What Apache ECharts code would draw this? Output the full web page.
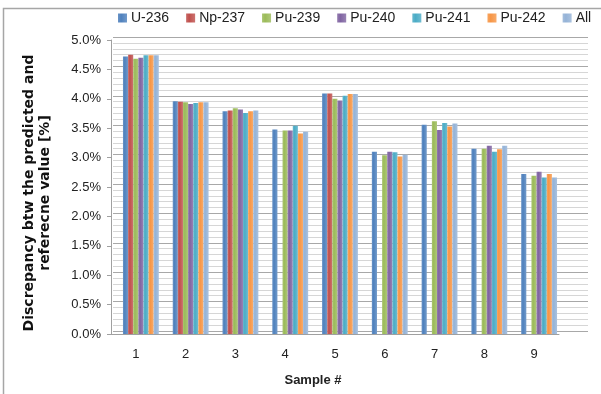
<!DOCTYPE html>
<html><head><meta charset="utf-8">
<script src="https://cdn.jsdelivr.net/npm/echarts@6/dist/echarts.min.js"></script>
<style>html,body{margin:0;padding:0;background:#fff}#c{width:601px;height:394px}</style>
</head><body><div id="c"></div>
<script>
const categories = ['1','2','3','4','5','6','7','8','9'];
const seriesNames = ['U-236','Np-237','Pu-239','Pu-240','Pu-241','Pu-242','All'];
const u236  = [4.72, 3.96, 3.79, 3.48, 4.09, 3.10, 3.56, 3.15, 2.72];
const np237 = [4.75, 3.95, 3.80, null, 4.09, null, null, null, null];
const pu239 = [4.68, 3.94, 3.84, 3.46, 4.00, 3.04, 3.62, 3.15, 2.69];
const pu240 = [4.70, 3.91, 3.82, 3.46, 3.97, 3.10, 3.47, 3.20, 2.76];
const pu241 = [4.74, 3.93, 3.76, 3.54, 4.05, 3.09, 3.59, 3.10, 2.66];
const pu242 = [4.74, 3.94, 3.79, 3.41, 4.08, 3.02, 3.53, 3.14, 2.72];
const all   = [4.74, 3.94, 3.80, 3.44, 4.08, 3.05, 3.58, 3.20, 2.66];
const yTicks = [0, 0.5, 1.0, 1.5, 2.0, 2.5, 3.0, 3.5, 4.0, 4.5, 5.0];
const colors = ['#4F81BD','#C0504D','#9BBB59','#8064A2','#4BACC6','#F79646','#95B3D7'];
const values = [u236, np237, pu239, pu240, pu241, pu242, all];

const chart = echarts.init(document.getElementById('c'), null, {renderer:'canvas'});
const font = 'Liberation Sans';
function grad(c){
  return new echarts.graphic.LinearGradient(0,0,1,0,[
    {offset:0,color:echarts.color.lift(c,0.15)},
    {offset:0.35,color:c},
    {offset:1,color:echarts.color.lift(c,0.2)}]);
}
const yMin = yTicks[0], yMax = yTicks[yTicks.length-1], yStep = yTicks[1]-yTicks[0];
chart.setOption({
  animation:false,
  textStyle:{fontFamily:font},
  graphic:[{type:'rect',shape:{x:3.5,y:8.5,width:620,height:400},style:{fill:'none',stroke:'#a6a6a6',lineWidth:1.5},silent:true}],
  legend:{top:6,left:113,width:500,itemWidth:9,itemHeight:9,itemGap:17,icon:'rect',
    textStyle:{fontSize:14,color:'#222',fontFamily:font,padding:[0,0,0,-1]},data:seriesNames},
  grid:[
    {left:111,right:42,top:40,bottom:60},
    {left:113,right:13,top:37,bottom:63},
    {left:116,right:37,top:40,bottom:60}
  ],
  xAxis:[
    {type:'category',data:categories,gridIndex:0,
     axisLine:{lineStyle:{color:'#a0a0a0'}},axisTick:{show:false},
     axisLabel:{fontSize:13,color:'#222',margin:14},
     name:'Sample #',nameLocation:'middle',nameGap:40,
     nameTextStyle:{fontSize:13,fontWeight:'bold',color:'#222',padding:[0,44,0,0]}},
    {type:'category',data:categories,gridIndex:1,show:false},
    {type:'category',data:categories,gridIndex:2,show:false}
  ],
  yAxis:[
    {type:'value',gridIndex:0,min:yMin,max:yMax,interval:yStep,
     axisLine:{show:true,lineStyle:{color:'#a0a0a0'}},axisTick:{show:true,length:4,lineStyle:{color:'#a0a0a0'}},
     axisLabel:{fontSize:13,color:'#222',margin:10,formatter:v=>v.toFixed(1)+'%'},
     splitLine:{show:false},
     name:'Discrepancy btw the predicted and\nreferecne value [%]',nameLocation:'middle',nameGap:58,nameRotate:90,
     nameTextStyle:{fontSize:14,fontWeight:'bold',color:'#111',lineHeight:16,fontFamily:'DejaVu Sans',padding:[0,12,0,0]}},
    {type:'value',gridIndex:1,min:yMin,max:yMax,interval:yStep,
     axisLine:{show:false},axisTick:{show:false},axisLabel:{show:false},
     splitLine:{show:true,lineStyle:{color:'#a8a8a8'}},
     minorTick:{show:false,splitNumber:5},
     minorSplitLine:{show:true,lineStyle:{color:'#d6d6d6'}}},
    {type:'value',gridIndex:2,min:yMin,max:yMax,show:false,splitLine:{show:false}}
  ],
  series: seriesNames.map((n,i)=>({
    name:n,type:'bar',xAxisIndex:2,yAxisIndex:2,data:values[i],
    barGap:'0%',barCategoryGap:'28%',
    itemStyle:{color:grad(colors[i])}
  })).concat([{type:'bar',xAxisIndex:1,yAxisIndex:1,data:[],silent:true}]),
  color:colors
});
</script></body></html>
